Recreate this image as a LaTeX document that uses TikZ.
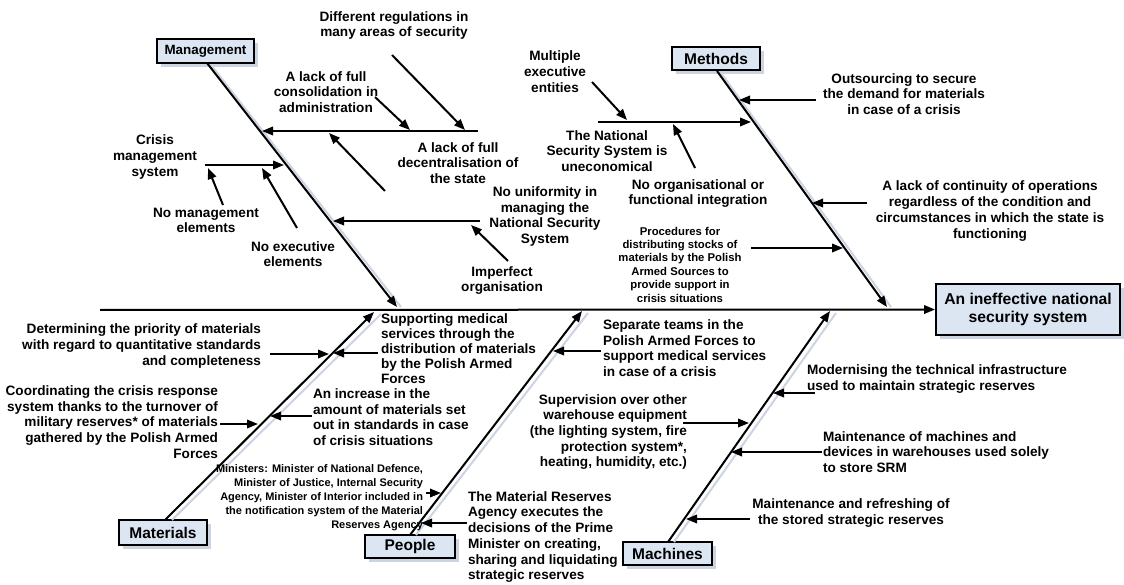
\documentclass[tikz,border=0pt]{standalone}
\usepackage{fontspec}
\setmainfont{Liberation Sans}
\usetikzlibrary{arrows.meta,shadows,calc}
\definecolor{boxfill}{RGB}{220,230,242}
\definecolor{shadowc}{RGB}{204,212,226}
\begin{document}
\begin{tikzpicture}[x=1pt,y=-1pt,line width=2pt,
  arr/.style={-{Triangle[length=11pt,width=8.5pt]}},
  shade/.style={draw=shadowc,line width=2pt},
  lbl/.style={font=\bfseries\fontsize{13.6}{15.7}\selectfont,align=center,inner sep=0pt},
  small/.style={font=\bfseries\fontsize{11.3}{13.4}\selectfont,align=center,inner sep=0pt},
  tiny/.style={font=\bfseries\fontsize{11}{14}\selectfont,align=right,inner sep=0pt},
  cat/.style={draw,fill=boxfill,line width=2pt,inner sep=0pt,
    font=\bfseries\fontsize{15.5}{18}\selectfont,
    drop shadow={shadow xshift=4pt,shadow yshift=-4pt,fill=shadowc,opacity=1}}]
\useasboundingbox[fill=white] (0,0) rectangle (1124,585);

% ---------- boxes ----------
\node[cat,minimum width=97pt,minimum height=24pt,font=\bfseries\fontsize{13.4}{16}\selectfont] (mgmt) at (205.5,51) {Management};
\node[cat,minimum width=88pt,minimum height=23pt] (meth) at (716,58.5) {Methods};
\node[cat,minimum width=88pt,minimum height=25pt] (mat) at (163,532.5) {Materials};
\node[cat,minimum width=90pt,minimum height=23pt] (peop) at (410,546.5) {People};
\node[cat,minimum width=89pt,minimum height=23pt] (mach) at (667.5,553.5) {Machines};
\node[cat,minimum width=184pt,minimum height=51pt,align=center,font=\bfseries\fontsize{15.7}{18.5}\selectfont] (eff) at (1028,309.5) {An ineffective national\\security system};

% ---------- coordinates ----------
\coordinate (sp0) at (100,310);
\coordinate (mg0) at (207,63);   \coordinate (mg1) at (397,307);
\coordinate (me0) at (717,71);   \coordinate (me1) at (887,307);
\coordinate (ma0) at (165,520);  \coordinate (ma1) at (374,312);
\coordinate (pe0) at (410,535);  \coordinate (pe1) at (582,311);
\coordinate (mc0) at (668,542);  \coordinate (mc1) at (830,311);

% management
\coordinate (m1s) at (478,131); \coordinate (m1e) at (262,131);
\coordinate (m1as) at (392,55); \coordinate (m1ae) at (465,130);
\coordinate (m1bs) at (375,97); \coordinate (m1be) at (410,130);
\coordinate (m1cs) at (385,191); \coordinate (m1ce) at (329,133);
\coordinate (m2s) at (205,165); \coordinate (m2e) at (284,165);
\coordinate (m2as) at (223,205); \coordinate (m2ae) at (208,168);
\coordinate (m2bs) at (297,228); \coordinate (m2be) at (262,168);
\coordinate (m3s) at (480,221); \coordinate (m3e) at (333,221);
\coordinate (m3as) at (508,261); \coordinate (m3ae) at (471,225);
% methods
\coordinate (t1s) at (598,122); \coordinate (t1e) at (751,122);
\coordinate (t1as) at (592,82); \coordinate (t1ae) at (627,120);
\coordinate (t1bs) at (695,168); \coordinate (t1be) at (673,124);
\coordinate (t2s) at (816,100); \coordinate (t2e) at (739,100);
\coordinate (t3s) at (867,203); \coordinate (t3e) at (812,203);
\coordinate (t4s) at (751,248); \coordinate (t4e) at (843,248);
% materials
\coordinate (a1s) at (270,354); \coordinate (a1e) at (329,354);
\coordinate (a2s) at (378,353); \coordinate (a2e) at (333,353);
\coordinate (a3s) at (220,424); \coordinate (a3e) at (258,424);
\coordinate (a4s) at (312,416); \coordinate (a4e) at (270,416);
% people
\coordinate (p1s) at (601,351); \coordinate (p1e) at (553,351);
\coordinate (p2s) at (426,493); \coordinate (p2e) at (441,493);
\coordinate (p3s) at (467,523); \coordinate (p3e) at (421,523);
% machines
\coordinate (c1s) at (683,423); \coordinate (c1e) at (749,423);
\coordinate (c2s) at (815,393); \coordinate (c2e) at (773,393);
\coordinate (c3s) at (822,452); \coordinate (c3e) at (731,452);
\coordinate (c4s) at (750,519); \coordinate (c4e) at (686,519);

% ---------- bone shadows ----------
\draw[shade] ($(mg0)+(4,2)$) -- ($(mg1)+(4,0)$);
\draw[shade] ($(me0)+(4,2)$) -- ($(me1)+(4,0)$);
\draw[shade] ($(ma0)+(7,0)$) -- ($(ma1)+(7,2)$);
\draw[shade] ($(pe0)+(6,0)$) -- ($(pe1)+(6,2)$);
\draw[shade] ($(mc0)+(6,0)$) -- ($(mc1)+(6,2)$);

% ---------- spine and bones ----------
\draw[arr] (sp0) -- (eff.west);
\draw[arr] (mg0) -- (mg1);
\draw[arr] (me0) -- (me1);
\draw[arr] (ma0) -- (ma1);
\draw[arr] (pe0) -- (pe1);
\draw[arr] (mc0) -- (mc1);

% ---------- sub-branches ----------
\foreach \n in {m1,m1a,m1b,m1c,m2,m2a,m2b,m3,m3a,t1,t1a,t1b,t2,t3,t4,a1,a2,a3,a4,p1,p2,p3,c1,c2,c3,c4}
  \draw[arr] (\n s) -- (\n e);

% ---------- labels ----------
\node[lbl] (diff) at (394,25.5) {Different regulations in\\many areas of security};
\node[lbl] (consol) at (326,92) {A lack of full\\consolidation in\\administration};
\node[lbl] (decent) at (458,163) {A lack of full\\decentralisation of\\the state};
\node[lbl] (crisis) at (155,157) {Crisis\\management\\system};
\node[lbl] (nomgmt) at (206,220.5) {No management\\elements};
\node[lbl] (noexec) at (293,254) {No executive\\elements};
\node[lbl] (nouni) at (545,216.5) {No uniformity in\\managing the\\National Security\\System};
\node[lbl] (imperf) at (502,280.5) {Imperfect\\organisation};
\node[lbl] (multi) at (555,71.5) {Multiple\\executive\\entities};
\node[lbl] (uneco) at (607,151) {The National\\Security System is\\uneconomical};
\node[lbl] (noorg) at (698,193.5) {No organisational or\\functional integration};
\node[lbl] (outs) at (904,94) {Outsourcing to secure\\the demand for materials\\in case of a crisis};
\node[lbl] (cont) at (990,211) {A lack of continuity of operations\\regardless of the condition and\\circumstances in which the state is\\functioning};
\node[small] (proc) at (680,264.5) {Procedures for\\distributing stocks of\\materials by the Polish\\Armed Sources to\\provide support in\\crisis situations};

\node[lbl,align=right,anchor=east] (determ) at (262,346) {Determining the priority of materials\\with regard to quantitative standards\\and completeness};
\node[lbl,align=right,anchor=east] (coord) at (219,422) {Coordinating the crisis response\\system thanks to the turnover of\\military reserves* of materials\\gathered by the Polish Armed\\Forces};
\node[lbl,align=left,anchor=west,font=\bfseries\fontsize{13.6}{15.5}\selectfont] (incr) at (312,417) {An increase in the\\amount of materials set\\out in standards in case\\of crisis situations};
\node[lbl,align=left,anchor=west,font=\bfseries\fontsize{13.6}{15}\selectfont] (supp) at (380,349) {Supporting medical\\services through the\\distribution of materials\\by the Polish Armed\\Forces};
\node[lbl,align=left,anchor=west] (sep) at (602,348) {Separate teams in the\\Polish Armed Forces to\\support medical services\\in case of a crisis};
\node[tiny,anchor=east] (mini) at (424,498) {Ministers: Minister of National Defence,\\Minister of Justice, Internal Security\\Agency, Minister of Interior included in\\the notification system of the Material\\Reserves Agency};
\node[lbl,align=left,anchor=west] (mra) at (467,537) {The Material Reserves\\Agency executes the\\decisions of the Prime\\Minister on creating,\\sharing and liquidating\\strategic reserves};
\node[lbl,align=right,anchor=east] (superv) at (688,432) {Supervision over other\\warehouse equipment\\(the lighting system, fire\\protection system*,\\heating, humidity, etc.)};
\node[lbl,align=left,anchor=west] (modern) at (806,379) {Modernising the technical infrastructure\\used to maintain strategic reserves};
\node[lbl,align=left,anchor=west] (mmach) at (822,452) {Maintenance of machines and\\devices in warehouses used solely\\to store SRM};
\node[lbl] (mref) at (851,513) {Maintenance and refreshing of\\the stored strategic reserves};
\end{tikzpicture}
\end{document}
